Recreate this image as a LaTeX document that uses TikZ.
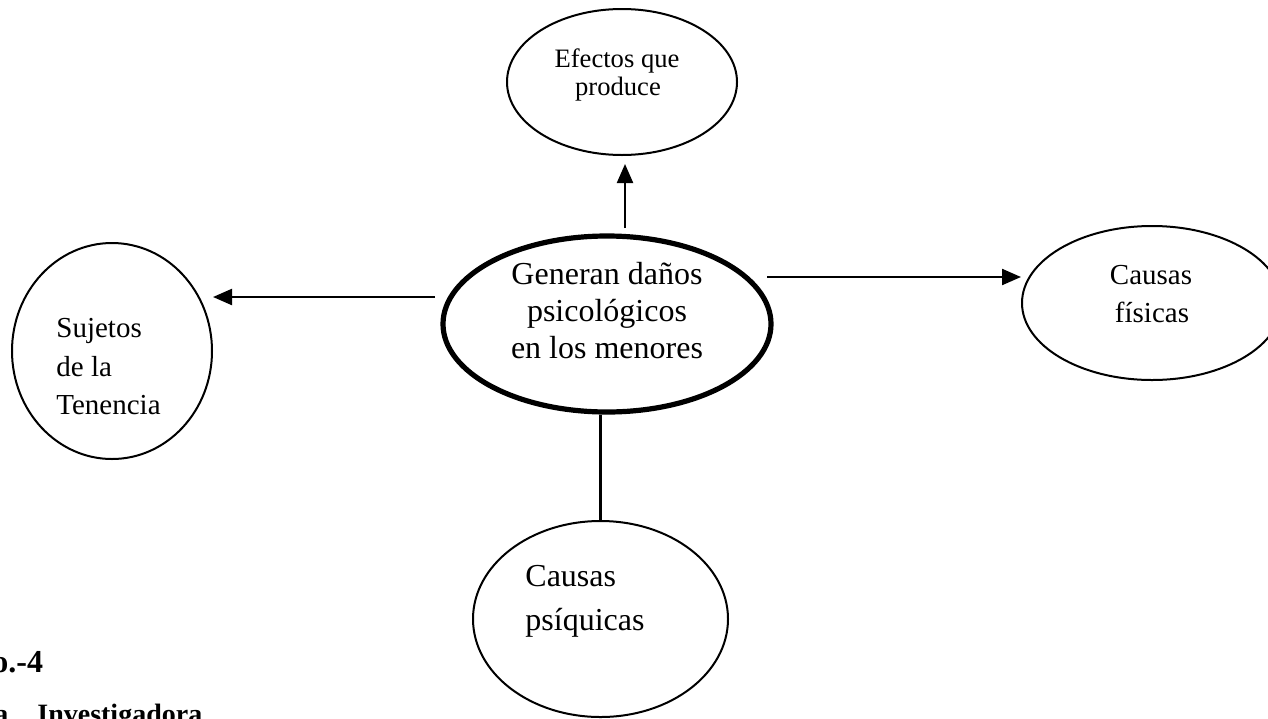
\documentclass[tikz,border=0pt]{standalone}
\usepackage{fontspec}
\setmainfont{Liberation Serif}
\usetikzlibrary{shapes.geometric,arrows.meta}
\begin{document}
\begin{tikzpicture}[x=0.5pt,y=-0.5pt,
  bub/.style={draw=black,ellipse,inner sep=0pt,line width=1pt},
  mainbub/.style={bub,line width=2.6pt},
  conn/.style={line width=1.1pt},
  arr/.style={conn,-{Triangle[length=9.5pt,width=8pt]}},
  lbl/.style={anchor=base,inner sep=0pt},
  lblw/.style={anchor=base west,inner sep=0pt},
  fa/.style={font=\fontsize{16pt}{18.5pt}\selectfont},
  fb/.style={font=\fontsize{14.5pt}{19.5pt}\selectfont},
  fc/.style={font=\fontsize{13.3pt}{14pt}\selectfont},
  fd/.style={font=\fontsize{14pt}{16pt}\selectfont\bfseries},
  fe/.style={font=\fontsize{16pt}{18pt}\selectfont\bfseries}]
\useasboundingbox (0,0) rectangle (1268,718);
\clip (0,0) rectangle (1268,718);
% ellipses
\node[bub, minimum width=115pt, minimum height=73pt] (efe) at (622,82) {};
\node[mainbub, minimum width=164pt, minimum height=88pt] (main) at (607,324) {};
\node[bub, minimum width=100pt, minimum height=108pt] (suj) at (112,351) {};
\node[bub, minimum width=130pt, minimum height=77pt] (fis) at (1152,303) {};
\node[bub, minimum width=127.5pt, minimum height=98pt] (psi) at (600.5,619) {};
% texts
\node[lbl,fc] (efe1) at (617,67) {Efectos que};
\node[lbl,fc] (efe2) at (618,95) {produce};
\node[lbl,fa] (main1) at (607,284) {Generan daños};
\node[lbl,fa] (main2) at (607,321) {psicológicos};
\node[lbl,fa] (main3) at (607,358) {en los menores};
\node[lblw,fb] (suj1) at (56,337) {Sujetos};
\node[lblw,fb] (suj2) at (56,376) {de la};
\node[lblw,fb] (suj3) at (56,414) {Tenencia};
\node[lbl,fb] (fis1) at (1151,284) {Causas};
\node[lbl,fb] (fis2) at (1152,322) {físicas};
\node[lblw,fa] (psi1) at (525,586) {Causas};
\node[lblw,fa] (psi2) at (525,630) {psíquicas};
\node[lblw,fe] (cap1) at (-8,672) {o.-4};
\node[lblw,fd] (cap2) at (-6,723) {a\hspace{14.5pt}Investigadora};
% connectors
\coordinate (ustart) at (625,228);
\coordinate (lstart) at (435,297);
\coordinate (rstart) at (767,277);
\draw[arr, shorten >=4pt] (ustart) -- (ustart |- efe.south);
\draw[arr] (lstart) -- (lstart -| suj.east);
\draw[arr] (rstart) -- (rstart -| fis.west);
\draw[conn] (main.south -| psi.north) -- (psi.north);
\end{tikzpicture}
\end{document}
